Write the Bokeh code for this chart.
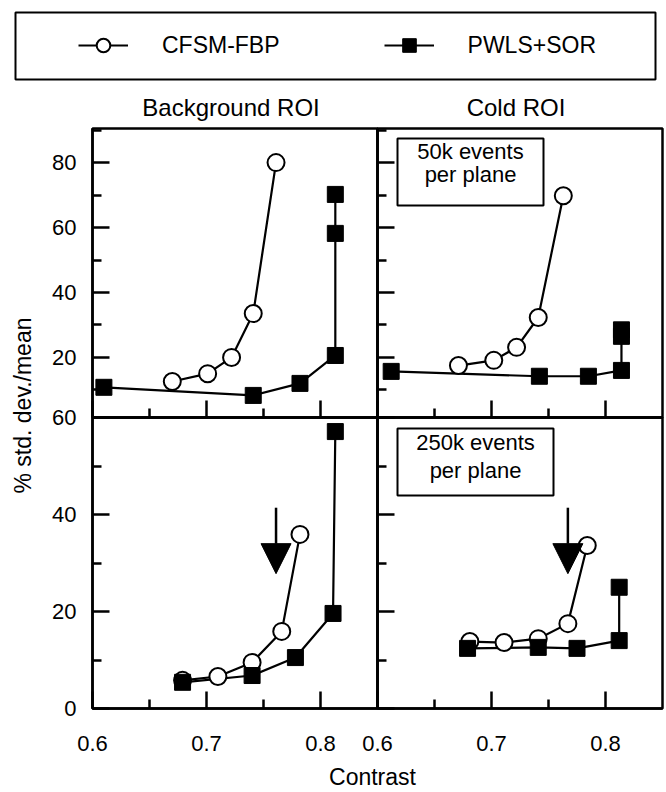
from bokeh.plotting import figure
from bokeh.models import (Range1d, LinearAxis, FixedTicker, Arrow, NormalHead,
                          Legend, LegendItem)
from bokeh.core.properties import value
from bokeh.embed import file_html
from bokeh.resources import INLINE
import math

# ---------------- data ----------------
x_lim = [0.6, 0.85]
x_ticks = [0.6, 0.7, 0.8]
x_minor = [0.65, 0.75]

top_y_lim = [1.5, 90.5]
top_y_ticks = [20, 40, 60, 80]
top_y_minor = [10, 30, 50, 70, 90]

bot_y_lim = [0, 60]
bot_y_ticks = [0, 20, 40, 60]
bot_y_minor = [10, 30, 50]

series_names = ["CFSM-FBP", "PWLS+SOR"]
column_titles = ["Background ROI", "Cold ROI"]
count_labels = [["50k events", "per plane"], ["250k events", "per plane"]]
y_title = "% std. dev./mean"
x_title = "Contrast"

# 50k events, background ROI
bg50_cfsm_x = [0.670, 0.701, 0.722, 0.741, 0.761]
bg50_cfsm_y = [12.6, 15.0, 20.0, 33.5, 80.0]
bg50_pwls_x = [0.610, 0.741, 0.782, 0.813, 0.813, 0.813]
bg50_pwls_y = [10.8, 8.3, 12.0, 20.6, 58.2, 70.2]

# 50k events, cold ROI
cold50_cfsm_x = [0.671, 0.702, 0.722, 0.741, 0.763]
cold50_cfsm_y = [17.5, 19.1, 23.1, 32.3, 69.8]
cold50_pwls_x = [0.612, 0.742, 0.785, 0.814, 0.814, 0.814]
cold50_pwls_y = [15.7, 14.2, 14.2, 16.0, 26.5, 28.5]

# 250k events, background ROI
bg250_cfsm_x = [0.679, 0.710, 0.740, 0.766, 0.782]
bg250_cfsm_y = [5.8, 6.6, 9.5, 15.9, 35.9]
bg250_pwls_x = [0.679, 0.740, 0.778, 0.811, 0.813]
bg250_pwls_y = [5.4, 6.8, 10.5, 19.6, 57.1]

# 250k events, cold ROI
cold250_cfsm_x = [0.681, 0.711, 0.741, 0.767, 0.784]
cold250_cfsm_y = [13.8, 13.6, 14.4, 17.5, 33.6]
cold250_pwls_x = [0.679, 0.741, 0.775, 0.812, 0.812]
cold250_pwls_y = [12.4, 12.6, 12.4, 14.0, 25.0]

# arrows (x, y_start, y_end) in data units
bg250_arrow = [0.761, 41.4, 27.8]
cold250_arrow = [0.767, 41.4, 27.8]

# ---------------- layout (figure pixels) ----------------
W, H = 664, 790
FONT = value("Liberation Sans")
FS = "22px"
LW = 2.5

col_px = [(92, 377), (377, 662)]      # left/right panel x extents
row_px = [(128, 417), (417, 708)]     # top/bottom panel y extents (from top)

p = figure(width=W, height=H, x_range=Range1d(0, W), y_range=Range1d(H, 0),
           x_axis_type=None, y_axis_type=None, toolbar_location=None,
           output_backend="svg", min_border=0, min_border_left=0,
           min_border_right=0, min_border_top=0, min_border_bottom=0,
           outline_line_color=None)
p.xgrid.visible = False
p.ygrid.visible = False


def x_range_for(px0, px1):
    s = (x_lim[1] - x_lim[0]) / (px1 - px0)
    return Range1d(x_lim[0] - px0 * s, x_lim[0] + (W - px0) * s)


def y_range_for(fy_top, fy_bot, lim):
    yb = H - fy_bot
    yt = H - fy_top
    s = (lim[1] - lim[0]) / (yt - yb)
    return Range1d(lim[0] - yb * s, lim[0] + (H - yb) * s)


p.extra_x_ranges = {"xl": x_range_for(*col_px[0]), "xr": x_range_for(*col_px[1])}
p.extra_y_ranges = {"yt": y_range_for(row_px[0][0], row_px[0][1], top_y_lim),
                    "yb": y_range_for(row_px[1][0], row_px[1][1], bot_y_lim)}


def style_axis(ax, show_labels):
    ax.axis_line_width = LW
    ax.axis_line_color = "black"
    ax.major_tick_in = 17
    ax.major_tick_out = 0
    ax.minor_tick_in = 9
    ax.minor_tick_out = 0
    ax.major_tick_line_width = 2.5
    ax.minor_tick_line_width = 2.5
    ax.major_tick_line_color = "black"
    ax.minor_tick_line_color = "black"
    ax.major_label_text_font = "Liberation Sans"
    ax.major_label_text_font_size = FS
    if show_labels:
        ax.major_label_text_color = "black"
    else:
        ax.major_label_text_color = None


def panel(xn, yn, ylim, yticks, yminor, show_x, show_y,
          cx, cy, sx, sy, arrow=None):
    xa = LinearAxis(x_range_name=xn, y_range_name=yn, fixed_location=ylim[0],
                    bounds=(x_lim[0], x_lim[1]),
                    ticker=FixedTicker(ticks=x_ticks, minor_ticks=x_minor),
                    major_label_standoff=27)
    style_axis(xa, show_x)
    p.add_layout(xa, "below")
    ya = LinearAxis(x_range_name=xn, y_range_name=yn, fixed_location=x_lim[0],
                    bounds=(ylim[0], ylim[1]),
                    ticker=FixedTicker(ticks=yticks, minor_ticks=yminor),
                    major_label_standoff=16)
    style_axis(ya, show_y)
    p.add_layout(ya, "left")
    p.quad(left=[x_lim[0]], right=[x_lim[1]], bottom=[ylim[0]], top=[ylim[1]],
           fill_color=None, line_color="black", line_width=LW,
           x_range_name=xn, y_range_name=yn)
    l1 = p.line(cx, cy, line_color="black", line_width=2.2,
                x_range_name=xn, y_range_name=yn)
    l2 = p.line(sx, sy, line_color="black", line_width=2.2,
                x_range_name=xn, y_range_name=yn)
    s1 = p.scatter(cx, cy, marker="circle", size=17, fill_color="white",
                   line_color="black", line_width=2,
                   x_range_name=xn, y_range_name=yn)
    s2 = p.scatter(sx, sy, marker="square", size=16, fill_color="black",
                   line_color="black", line_width=1,
                   x_range_name=xn, y_range_name=yn)
    if arrow is not None:
        p.add_layout(Arrow(end=NormalHead(size=30, fill_color="black",
                                          line_color="black", line_width=1),
                           x_start=arrow[0], y_start=arrow[1],
                           x_end=arrow[0], y_end=arrow[2],
                           line_width=2.5, line_color="black",
                           x_range_name=xn, y_range_name=yn))
    return (l1, s1), (l2, s2)


r_cfsm, r_pwls = panel("xl", "yt", top_y_lim, top_y_ticks, top_y_minor, False, True,
                       bg50_cfsm_x, bg50_cfsm_y, bg50_pwls_x, bg50_pwls_y)
panel("xr", "yt", top_y_lim, top_y_ticks, top_y_minor, False, False,
      cold50_cfsm_x, cold50_cfsm_y, cold50_pwls_x, cold50_pwls_y)
panel("xl", "yb", bot_y_lim, bot_y_ticks, bot_y_minor, True, True,
      bg250_cfsm_x, bg250_cfsm_y, bg250_pwls_x, bg250_pwls_y, bg250_arrow)
panel("xr", "yb", bot_y_lim, bot_y_ticks, bot_y_minor, True, False,
      cold250_cfsm_x, cold250_cfsm_y, cold250_pwls_x, cold250_pwls_y, cold250_arrow)

# ---------------- legend ----------------
p.quad(left=[15], right=[655], top=[12], bottom=[79], fill_color=None,
       line_color="black", line_width=2)
legend = Legend(items=[LegendItem(label=series_names[0], renderers=list(r_cfsm)),
                       LegendItem(label=series_names[1], renderers=list(r_pwls))],
                orientation="horizontal", location=(78, H - 45 - 17),
                glyph_width=50, glyph_height=34, label_standoff=34, spacing=104,
                padding=0, margin=0, border_line_color=None,
                background_fill_alpha=0, label_text_font="Liberation Sans",
                label_text_font_size="23px", label_text_color="black")
p.add_layout(legend, "center")

# ---------------- titles ----------------
p.text(x=[(col_px[0][0] + col_px[0][1]) / 2 - 4, (col_px[1][0] + col_px[1][1]) / 2 - 4],
       y=[107, 107], text=column_titles, text_font=FONT, text_font_size="24px",
       text_align="center", text_baseline="middle", text_color="black")

p.text(x=[22], y=[405], text=[y_title], angle=math.pi / 2, text_font=FONT,
       text_font_size="23px", text_align="center", text_baseline="middle",
       text_color="black")
p.text(x=[372], y=[776], text=[x_title], text_font=FONT,
       text_font_size="23px", text_align="center", text_baseline="middle",
       text_color="black")

# count boxes
boxes = [(397, 543, 138, 205, 150.5, 173.5), (397, 553, 428, 495, 441.5, 469.5)]
for (bl, br, bt, bb, t1, t2), lines in zip(boxes, count_labels):
    p.quad(left=[bl], right=[br], top=[bt], bottom=[bb], fill_color="white",
           line_color="black", line_width=2)
    p.text(x=[(bl + br) / 2] * 2, y=[t1, t2], text=lines, text_font=FONT,
           text_font_size=FS, text_align="center", text_baseline="middle",
           text_color="black")

open("out.html", "w").write(file_html(p, INLINE))
